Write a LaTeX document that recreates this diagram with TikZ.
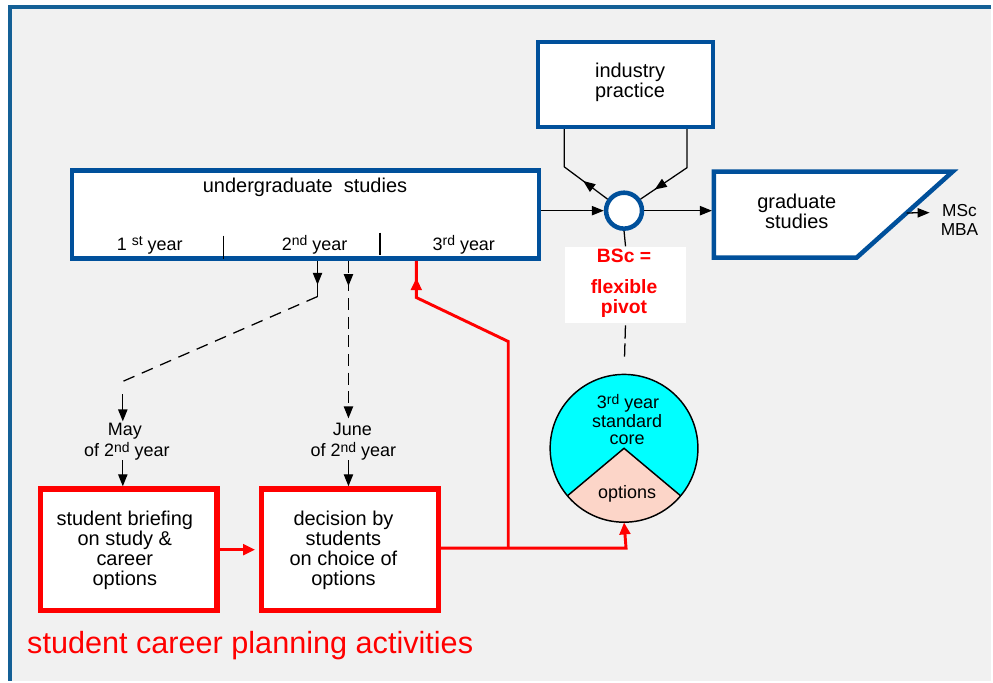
\documentclass[tikz,border=0pt]{standalone}
\usepackage{fontspec}
\setmainfont{Liberation Sans}
\usetikzlibrary{arrows.meta,decorations.markings,calc}
\definecolor{fblue}{RGB}{20,96,150}
\definecolor{bblue}{RGB}{0,80,155}
\definecolor{bgray}{RGB}{241,241,241}
\definecolor{cyanf}{RGB}{0,255,255}
\definecolor{peach}{RGB}{252,213,200}
\definecolor{myred}{RGB}{255,0,0}
\newcommand\supx[1]{\raisebox{0.45ex}{\fontsize{10.5}{10.5}\selectfont #1}}
\begin{document}
\begin{tikzpicture}[x=0.75pt,y=-0.75pt,
  tri/.tip={Triangle[length=9pt,width=7pt]},
  rtri/.tip={Triangle[length=9pt,width=8pt]},
  bluebox/.style={draw=bblue, line width=3.4pt, fill=white, rectangle, inner sep=0pt},
  redbox/.style={draw=myred, line width=4pt, fill=white, rectangle, inner sep=0pt, minimum width=132.5pt, minimum height=91.2pt},
  txt/.style={font=\fontsize{15}{15}\selectfont, align=center, inner sep=0pt},
  stxt/.style={font=\fontsize{13.5}{13.5}\selectfont, align=center, inner sep=0pt},
  bsctxt/.style={font=\bfseries\fontsize{14.5}{14.5}\selectfont, text=myred, align=center, inner sep=0pt},
  conn/.style={draw=black, line width=0.95pt},
  rconn/.style={draw=myred, line width=2.2pt},
  midtri/.style={postaction={decorate}, decoration={markings, mark=at position #1 with {\arrow{tri}}}},
  midrtri/.style={postaction={decorate}, decoration={markings, mark=at position #1 with {\arrow{rtri}}}},
]
% background and frame
\fill[white] (0,0) rectangle (993,682);
\fill[bgray] (10,7) rectangle (993,682);
\draw[fblue, line width=2.3pt] (10,682) -- (10,7) -- (993,7);
\useasboundingbox (0,0) rectangle (993,682);

% industry practice
\node[bluebox, minimum width=131.25pt, minimum height=63.75pt] (ind) at (626.5,84.5) {};
\node[txt] (indt) at (631,82) {industry\\practice};

% undergraduate studies
\node[bluebox, minimum width=351pt, minimum height=66pt] (ug) at (306,215) {};
\node[txt, anchor=base] (ugt) at (305.5,193) {undergraduate\ \ studies};
\node[stxt, anchor=base] (y1) at (150,250.5) {1 \supx{st} year};
\node[stxt, anchor=base] (y2) at (315,250.5) {2\supx{nd} year};
\node[stxt, anchor=base] (y3) at (464.5,250.5) {3\supx{rd} year};
\coordinate (s1a) at (224,236);
\coordinate (s2a) at (380.7,233);
\draw[conn] (s1a) -- (s1a |- 0,259);
\draw[conn] (s2a) -- (s2a |- 0,255);

% pivot circle
\node[circle, draw=bblue, line width=3.4pt, fill=white, minimum size=27pt, inner sep=0pt] (piv) at (625,211) {};

% graduate studies
\coordinate (g1) at (715,172);
\coordinate (g2) at (954,172);
\coordinate (g3) at (858,258);
\coordinate (g4) at (715,258);
\draw[bblue, line width=3.4pt, fill=white, line join=miter, miter limit=20] (g1) -- (g2) -- (g3) -- (g4) -- cycle;
\node[txt] (gt) at (798,212) {graduate\\studies};
\coordinate (gin) at (715,211);
\coordinate (gout) at ($(g2)!0.48!(g3)$);
\coordinate (mscend) at (931,213);
\node[font=\fontsize{13}{14}\selectfont, align=center, inner sep=0pt] (msc) at (961,220) {MSc\\MBA};

% BSc box
\node[fill=white, minimum width=90.75pt, minimum height=57pt, inner sep=0pt] (bsc) at (626.5,285) {};
\node[bsctxt, anchor=base] (b1) at (625,263) {BSc =};
\node[bsctxt] (b2) at (625,299) {flexible\\pivot};

% pie
\node[circle, minimum size=111pt, inner sep=0pt] (pie) at (625,449) {};
\fill[cyanf] (pie.center) circle[radius=55.5pt];
\fill[peach] (pie.center) -- ++(220:55.5pt) arc[start angle=220, end angle=320, radius=55.5pt] -- cycle;
\draw[black, line width=1.1pt] ($(pie.center)+(220:55.5pt)$) -- (pie.center) -- ($(pie.center)+(320:55.5pt)$);
\draw[black, line width=1.1pt] (pie.center) circle[radius=55.5pt];
\node[stxt, anchor=base] (pc1) at (629,409) {3\supx{rd} year};
\node[stxt, anchor=base] (pc2) at (628,428) {standard};
\node[stxt, anchor=base] (pc3) at (628,445) {core};
\node[stxt, anchor=base] (pc4) at (628,499) {options};

% red boxes
\node[redbox] (brief) at (129,550.5) {};
\node[txt] (brieft) at (125,551) {student briefing\\on study \&\\career\\options};
\node[redbox] (dec) at (350.5,550.5) {};
\node[txt] (dect) at (344,551) {decision by\\students\\on choice of\\options};

% May / June labels
\node[stxt, anchor=base] (may1) at (125,436) {May};
\node[stxt, anchor=base] (may2) at (127,457) {of 2\supx{nd} year};
\node[stxt, anchor=base] (jun1) at (353,436) {June};
\node[stxt, anchor=base] (jun2) at (354,457) {of 2\supx{nd} year};

\node[anchor=base west, text=myred, font=\fontsize{23}{23}\selectfont, inner sep=0pt] (title) at (27,655) {student career planning activities};

% black connectors
\draw[conn,-tri] (ug.east |- piv) -- (piv.west);
\draw[conn,-tri, shorten >=1.5pt] (piv.east) -- (gin);
\draw[conn,-tri] (gout) -- (mscend);
\coordinate (il) at (565,167);
\coordinate (ir) at (688,168);
\draw[conn, midtri=0.33] (piv.145) -- (il) -- (il |- ind.south);
\draw[conn, midtri=0.82] (ind.south -| ir) -- (ir) -- (piv.35);
\draw[conn] (piv.south) -- (bsc.north);
\draw[conn, dash pattern=on 10pt off 3.5pt, shorten <=2pt, shorten >=12.5pt] (bsc.south) -- (pie.north);

\coordinate (k1) at (318,297);
\coordinate (k2) at (123,382);
\draw[conn, midtri=0.67] (ug.south -| k1) -- (k1);
\draw[conn, dash pattern=on 9pt off 6pt] (k1) -- (k2);
\coordinate (m0) at (123,395);
\coordinate (m1) at (123,422);
\draw[conn,-tri] (m0) -- (m1);
\coordinate (m2) at (123,461);
\draw[conn,-tri] (m2) -- (m2 |- brief.north);

\coordinate (j1) at (349,419);
\draw[conn, dash pattern=on 9pt off 5pt, -tri, midtri=0.16] (ug.south -| j1) -- (j1);
\coordinate (j2) at (349,461);
\draw[conn,-tri] (j2) -- (j2 |- dec.north);

% red connectors
\draw[rconn, -rtri, shorten >=3pt] (brief.east) -- (dec.west);
\coordinate (r1) at (627,549);
\draw[rconn, -rtri] (dec.east |- r1) -- (r1) -- (pie.south);
\coordinate (r2) at (509,549);
\coordinate (r3) at (509,342);
\coordinate (r4) at (417,298);
\draw[rconn, midrtri=0.95] (r2) -- (r3) -- (r4) -- (ug.south -| r4);
\end{tikzpicture}
\end{document}
